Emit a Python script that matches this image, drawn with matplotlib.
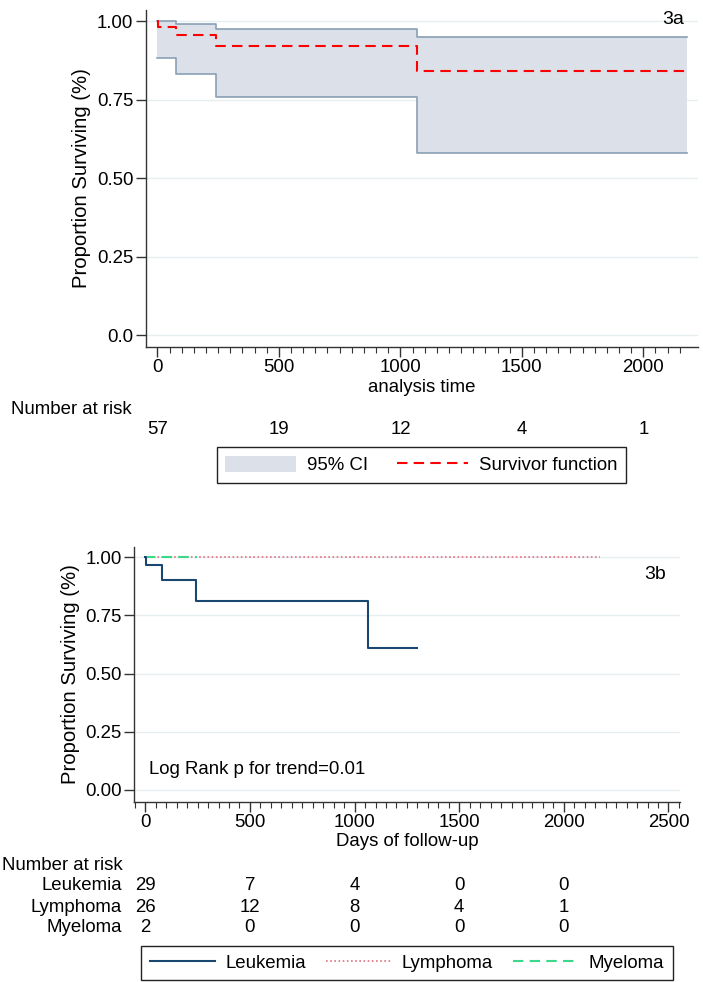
import matplotlib
matplotlib.use("Agg")
import matplotlib.pyplot as plt
import matplotlib.transforms as mtransforms
from matplotlib.patches import Patch
from matplotlib.lines import Line2D
from matplotlib.ticker import MultipleLocator, FixedLocator

plt.rcParams['font.family'] = ['Liberation Sans', 'DejaVu Sans']
plt.rcParams['font.size'] = 13.4

# ---- 3a: overall survival with 95% CI ----
surv_t = [0, 2, 76, 241, 1067, 2180]
surv_s = [1.0, 0.982, 0.956, 0.920, 0.842, 0.842]
ci_t = [0, 76, 241, 1067, 2180]
ci_lo = [0.881, 0.833, 0.759, 0.581, 0.581]
ci_hi = [1.0, 0.990, 0.974, 0.948, 0.948]
risk_times = [0, 500, 1000, 1500, 2000]
risk_all = [57, 19, 12, 4, 1]

# ---- 3b: by diagnosis ----
leuk_t = [0, 3, 78, 242, 1066, 1300]
leuk_s = [1.0, 0.966, 0.901, 0.811, 0.6085, 0.6085]
lymph_t = [0, 2173]
lymph_s = [1.0, 1.0]
myel_t = [0, 246]
myel_s = [1.0, 1.0]
groups = ["Leukemia", "Lymphoma", "Myeloma"]
risk_groups = [[29, 7, 4, 0, 0],
               [26, 12, 8, 4, 1],
               [2, 0, 0, 0, 0]]

W, H = 703, 982
fig = plt.figure(figsize=(W / 100, H / 100), dpi=100)


def px_axes(left, top, right, bottom):
    return fig.add_axes([left / W, 1 - bottom / H, (right - left) / W, (bottom - top) / H])


def fy(y):
    return 1 - y / H


def style(ax):
    for s in ["top", "right"]:
        ax.spines[s].set_visible(False)
    for s in ["left", "bottom"]:
        ax.spines[s].set_color("#333333")
        ax.spines[s].set_linewidth(1.0)
    ax.tick_params(axis="both", which="major", length=7, width=1, color="#333333", pad=2)
    ax.tick_params(axis="x", which="minor", length=4, width=0.8, color="#333333")
    ax.yaxis.grid(True, color="#e6eef0", linewidth=1)
    ax.set_axisbelow(True)


ci_fill = "#dce1e9"
ci_edge = "#8a9fb5"
navy = "#1a476f"
pink = "#e0707f"
green = "#3ad98a"

# ----- top panel -----
ax1 = px_axes(146, 10, 698, 347)
style(ax1)
ax1.fill_between(ci_t, ci_lo, ci_hi, step="post", color=ci_fill, linewidth=0)
ax1.step(ci_t, ci_lo, where="post", color=ci_edge, lw=1.2)
ax1.step(ci_t, ci_hi, where="post", color=ci_edge, lw=1.2)
ax1.step(surv_t, surv_s, where="post", color="red", lw=1.5, linestyle=(0, (5, 3)))
ax1.set_xlim(-47, 2225)
ax1.set_ylim(-0.037, 1.035)
ax1.set_xticks(risk_times)
ax1.xaxis.set_minor_locator(FixedLocator([t for t in range(0, 2151, 50) if t % 500]))
ax1.set_yticks([0, 0.25, 0.5, 0.75, 1.0])
ax1.set_yticklabels(["0.0", "0.25", "0.50", "0.75", "1.00"])
ax1.set_xlabel("analysis time", labelpad=1.5)
ax1.set_ylabel("Proportion Surviving (%)", labelpad=4, fontsize=14.6)
ax1.text(2167, 1.005, "3a", ha="right", va="center", fontsize=14)

tr1 = mtransforms.blended_transform_factory(ax1.transData, fig.transFigure)
fig.text(11 / W, fy(409), "Number at risk", ha="left", va="center")
for t, n in zip(risk_times, risk_all):
    ax1.text(t, fy(430), str(n), transform=tr1, ha="center", va="center")

h1 = [Patch(facecolor=ci_fill, edgecolor="none"),
      Line2D([], [], color="red", lw=1.5, linestyle=(0, (5, 3)))]
ax1.legend(h1, ["95% CI", "Survivor function"], ncol=2, loc="center",
           bbox_to_anchor=(421.5 / W, fy(465)), bbox_transform=fig.transFigure,
           frameon=True, fancybox=False, edgecolor="#222222", framealpha=1,
           handlelength=3.8, handleheight=1.0, handletextpad=0.6, columnspacing=1.55,
           borderpad=0.45, borderaxespad=0)

# ----- bottom panel -----
ax2 = px_axes(134.3, 546.7, 680, 801.7)
style(ax2)
ax2.step(lymph_t, lymph_s, where="post", color=pink, lw=1.2, linestyle=(0, (1, 1.5)))
ax2.step(myel_t, myel_s, where="post", color=green, lw=1.5, linestyle=(0, (5, 3)))
ax2.step(leuk_t, leuk_s, where="post", color=navy, lw=1.5)
ax2.set_xlim(-52.6, 2555)
ax2.set_ylim(-0.0516, 1.0456)
ax2.set_xticks([0, 500, 1000, 1500, 2000, 2500])
ax2.xaxis.set_minor_locator(MultipleLocator(50))
ax2.set_yticks([0, 0.25, 0.5, 0.75, 1.0])
ax2.set_yticklabels(["0.00", "0.25", "0.50", "0.75", "1.00"])
ax2.set_xlabel("Days of follow-up", labelpad=1)
ax2.set_ylabel("Proportion Surviving (%)", labelpad=4, fontsize=14.6)
ax2.text(2488, 0.924, "3b", ha="right", va="center", fontsize=14)
ax2.text(18, 0.085, "Log Rank p for trend=0.01", ha="left", va="center")

tr2 = mtransforms.blended_transform_factory(ax2.transData, fig.transFigure)
fig.text(2 / W, fy(866), "Number at risk", ha="left", va="center")
row_y = [885, 907, 928]
for name, counts, y in zip(groups, risk_groups, row_y):
    fig.text(122 / W, fy(y), name, ha="right", va="center")
    for t, n in zip(risk_times, counts):
        ax2.text(t, fy(y), str(n), transform=tr2, ha="center", va="center")

h2 = [Line2D([], [], color=navy, lw=1.5),
      Line2D([], [], color=pink, lw=1.2, linestyle=(0, (1, 1.5))),
      Line2D([], [], color=green, lw=1.5, linestyle=(0, (5, 3)))]
ax2.legend(h2, groups, ncol=3, loc="center",
           bbox_to_anchor=(407 / W, fy(963)), bbox_transform=fig.transFigure,
           frameon=True, fancybox=False, edgecolor="#222222", framealpha=1,
           handlelength=3.5, handletextpad=0.55, columnspacing=1.1,
           borderpad=0.45, borderaxespad=0)

fig.savefig("out.png", dpi=100)
